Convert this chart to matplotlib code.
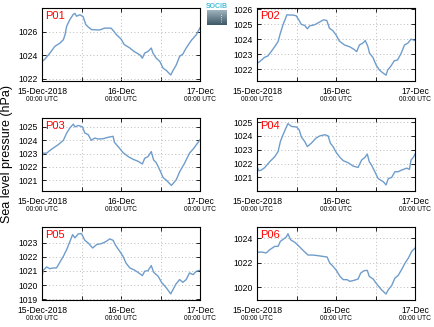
import numpy as np
import matplotlib
matplotlib.use("Agg")
import matplotlib.pyplot as plt
from datetime import datetime, timedelta

plt.rcParams['font.family'] = ['Liberation Sans', 'DejaVu Sans']

start = datetime(2018, 12, 15)

names = ["P01", "P02", "P03", "P04", "P05", "P06"]

# hours since 15-Dec-2018 00:00 UTC and pressure (hPa)
p01_h = [0, 0.9, 2.4, 3.9, 5.5, 6.5, 7.0, 7.5, 8.5, 9.5, 10.0, 10.5, 11.5, 12.5, 13.3, 14.0, 15.0,
         16.6, 17.6, 19.0, 21.0, 21.6, 22.6, 24.0, 25.0, 26.7, 28.0, 29.7, 30.5, 31.2, 32.2, 33.2,
         33.7, 34.7, 35.8, 36.8, 37.8, 39.1, 39.8, 40.8, 41.8, 42.8, 43.8, 45.4, 46.9, 48.0]
p01_v = [1023.46, 1023.66, 1024.17, 1024.74, 1025.03, 1025.31, 1025.74, 1026.46, 1027.03, 1027.46,
         1027.54, 1027.3, 1027.43, 1027.26, 1026.6, 1026.4, 1026.17, 1026.14, 1026.14, 1026.29,
         1026.29, 1026.1, 1025.74, 1025.37, 1024.89, 1024.6, 1024.3, 1024.03, 1023.74, 1024.17,
         1024.31, 1024.6, 1024.17, 1023.74, 1023.46, 1022.89, 1022.69, 1022.31, 1022.69, 1023.17,
         1023.89, 1024.09, 1024.6, 1025.26, 1025.74, 1026.31]

p02_h = [0, 0.8, 2.3, 3.3, 4.3, 5.4, 6.4, 7.1, 7.9, 9.1, 9.9, 10.9, 11.9, 12.7, 13.4, 14.5, 15.3,
         16.0, 17.5, 19.0, 20.2, 21.2, 22.0, 23.0, 24.0, 25.0, 26.6, 28.1, 29.4, 30.3, 31.1, 32.1,
         32.9, 33.7, 34.2, 35.2, 36.2, 37.2, 38.2, 39.2, 39.7, 40.7, 41.7, 42.7, 43.8, 44.8, 45.8,
         46.8, 48.0]
p02_v = [1022.38, 1022.49, 1022.78, 1022.87, 1023.16, 1023.5, 1023.83, 1024.39, 1024.95, 1025.62,
         1025.6, 1025.6, 1025.55, 1025.28, 1024.99, 1024.9, 1024.68, 1024.88, 1024.95, 1025.13,
         1025.28, 1025.24, 1024.72, 1024.57, 1024.28, 1023.87, 1023.6, 1023.49, 1023.32, 1023.16,
         1023.6, 1023.72, 1023.9, 1023.49, 1023.05, 1022.78, 1022.26, 1021.93, 1021.75, 1021.59,
         1021.93, 1022.2, 1022.55, 1022.6, 1023.05, 1023.6, 1023.72, 1023.99, 1023.9]

p03_h = [0, 0.4, 1.4, 2.4, 3.4, 4.9, 6.5, 7.5, 8.5, 9.5, 10.0, 11.0, 12.3, 13.0, 14.0, 15.0, 16.0,
         17.0, 18.6, 20.1, 21.6, 22.0, 23.1, 24.6, 26.2, 27.7, 29.2, 30.5, 31.2, 32.2, 33.2, 33.9,
         34.7, 35.8, 36.8, 37.8, 39.3, 39.8, 40.8, 41.8, 43.3, 44.8, 45.9, 46.9, 48.0]
p03_v = [1022.72, 1023.03, 1023.03, 1023.23, 1023.41, 1023.66, 1023.99, 1024.54, 1024.92, 1025.2,
         1025.0, 1025.1, 1025.0, 1024.54, 1024.42, 1023.99, 1024.16, 1024.09, 1024.11, 1024.22,
         1024.29, 1023.84, 1023.53, 1023.08, 1022.77, 1022.57, 1022.42, 1022.22, 1022.65, 1022.77,
         1023.15, 1022.52, 1022.32, 1021.76, 1021.2, 1021.0, 1020.62, 1020.75, 1021.05, 1021.63,
         1022.27, 1023.03, 1023.33, 1023.66, 1024.04]

p04_h = [0, 0.6, 1.3, 2.3, 3.9, 5.4, 6.4, 7.1, 7.9, 9.0, 9.4, 10.5, 12.0, 12.8, 13.5, 14.5, 15.3,
         16.5, 17.9, 19.1, 20.6, 21.6, 22.3, 23.1, 24.1, 25.2, 26.2, 27.7, 29.2, 30.7, 31.8, 32.8,
         33.5, 34.1, 34.8, 35.8, 36.8, 38.4, 39.2, 39.9, 40.9, 41.9, 42.9, 43.9, 45.5, 46.3, 46.8,
         47.5, 48.0]
p04_v = [1021.77, 1021.48, 1021.53, 1021.7, 1022.14, 1022.5, 1022.86, 1023.59, 1024.08, 1024.68,
         1024.88, 1024.68, 1024.64, 1024.44, 1023.91, 1023.59, 1023.23, 1023.47, 1023.83, 1024.0,
         1024.08, 1024.0, 1023.47, 1023.23, 1022.79, 1022.45, 1022.21, 1022.06, 1021.82, 1021.72,
         1022.26, 1022.45, 1022.69, 1022.14, 1021.89, 1021.41, 1020.92, 1020.68, 1020.46, 1020.92,
         1021.0, 1021.41, 1021.41, 1021.53, 1021.67, 1021.58, 1022.26, 1022.45, 1022.69]

p05_h = [0, 0.4, 1.4, 2.4, 3.4, 4.4, 5.3, 6.5, 7.5, 8.5, 9.3, 10.0, 11.0, 12.0, 13.0, 14.0, 15.4,
         16.6, 18.1, 19.4, 20.6, 21.6, 22.4, 23.6, 24.6, 25.5, 26.7, 28.2, 29.7, 30.5, 31.2, 32.2,
         33.2, 33.9, 35.3, 36.3, 37.8, 39.1, 39.8, 40.6, 41.8, 42.8, 43.8, 44.8, 45.9, 46.9, 48.0]
p05_v = [1020.62, 1021.05, 1021.28, 1021.16, 1021.21, 1021.21, 1021.56, 1022.04, 1022.51, 1023.09,
         1023.56, 1023.33, 1023.61, 1023.64, 1023.16, 1022.98, 1022.62, 1022.86, 1022.93, 1023.07,
         1023.26, 1023.16, 1022.79, 1022.39, 1022.04, 1021.56, 1021.21, 1021.05, 1020.81, 1020.67,
         1020.98, 1021.02, 1021.38, 1020.91, 1020.62, 1020.2, 1019.8, 1019.38, 1019.68, 1020.04,
         1020.39, 1020.2, 1020.39, 1020.86, 1020.74, 1020.98, 1021.05]

p06_h = [0, 1.3, 2.8, 3.9, 5.4, 6.4, 7.1, 8.1, 8.9, 9.4, 10.2, 11.5, 12.8, 14.0, 15.5, 17.0, 18.5,
         20.0, 21.3, 22.1, 23.1, 24.1, 25.2, 26.2, 27.4, 28.2, 29.4, 30.7, 31.5, 32.5, 33.5, 34.1,
         35.3, 36.3, 37.8, 39.2, 39.9, 40.9, 41.9, 42.9, 43.9, 45.0, 46.0, 47.0, 48.0]
p06_v = [1022.83, 1022.86, 1022.78, 1023.05, 1023.32, 1023.32, 1023.73, 1023.92, 1024.08, 1024.35,
         1023.86, 1023.65, 1023.32, 1022.99, 1022.61, 1022.61, 1022.56, 1022.5, 1022.45, 1021.96,
         1021.69, 1021.36, 1020.87, 1020.6, 1020.6, 1020.46, 1020.54, 1020.65, 1021.14, 1021.33,
         1021.36, 1020.87, 1020.65, 1020.27, 1019.78, 1019.43, 1019.78, 1020.11, 1020.73, 1020.95,
         1021.41, 1021.96, 1022.37, 1022.91, 1023.18]

hours = [p01_h, p02_h, p03_h, p04_h, p05_h, p06_h]
values = [p01_v, p02_v, p03_v, p04_v, p05_v, p06_v]
ylims = [(1021.8, 1028.0), (1021.2, 1026.07), (1020.2, 1025.66),
         (1020.02, 1025.29), (1018.95, 1024.1), (1018.94, 1024.9)]
yticks = [[1022, 1024, 1026], [1022, 1023, 1024, 1025, 1026], [1021, 1022, 1023, 1024, 1025],
          [1021, 1022, 1023, 1024, 1025], [1019, 1020, 1021, 1022, 1023], [1020, 1022, 1024]]
date_labels = ["15-Dec-2018", "16-Dec", "17-Dec"]

W, H = 434, 327
fig = plt.figure(figsize=(W / 100, H / 100), dpi=100)

col_left = [42, 257]
row_top = [8, 118, 227]
ax_w, ax_h = 158, 73
line_col = "#6f9dcb"

for i in range(6):
    r, c = divmod(i, 2)
    ax = fig.add_axes([col_left[c] / W, 1 - (row_top[r] + ax_h) / H, ax_w / W, ax_h / H])
    t = [start + timedelta(hours=h) for h in hours[i]]
    ax.plot(t, values[i], color=line_col, lw=1.0)
    ax.set_xlim(start, start + timedelta(hours=48))
    ax.set_ylim(*ylims[i])
    ax.set_yticks(yticks[i])
    ax.set_yticklabels([str(v) for v in yticks[i]], fontsize=6.2)
    major = [start + timedelta(hours=12 * k) for k in range(5)]
    ax.set_xticks(major)
    ax.set_xticklabels([date_labels[k // 2] if k % 2 == 0 else "" for k in range(5)], fontsize=6.2)
    ax.tick_params(direction="in", length=3, width=0.6, top=True, right=True, pad=3)
    ax.tick_params(axis="x", pad=4)
    ax.grid(True, color="#bbbbbb", linestyle=(0, (1, 2.5)), lw=0.7)
    for s in ax.spines.values():
        s.set_linewidth(0.8)
    for xpos in [0, 0.5, 1.0]:
        ax.text(xpos, -0.25, "00:00 UTC", transform=ax.transAxes, fontsize=4.8,
                ha="center", va="center")
    ax.text(0.02, 0.96, names[i], transform=ax.transAxes, color="red", fontsize=8,
            ha="left", va="top")

fig.text(7 / W, 1 - 154 / H, "Sea level pressure (hPa)", rotation=90, fontsize=9,
         ha="center", va="center")

# small logo at top centre
lax = fig.add_axes([207 / W, 1 - 25 / H, 20 / W, 15 / H])
grad = np.linspace(0, 1, 30).reshape(-1, 1)
lax.imshow(grad, aspect="auto", cmap=matplotlib.colors.LinearSegmentedColormap.from_list(
    "logo", ["#9fb3bd", "#3e5866"]), extent=[0, 1, 0, 1])
lax.plot([0.72, 0.72], [0.2, 0.8], color="white", lw=0.6, ls=":")
lax.axis("off")
fig.text(217 / W, 1 - 6 / H, "SOCIB", color="#45c0d8", fontsize=5, ha="center", va="center",
         fontweight="bold")

fig.savefig("out.png", dpi=100)
